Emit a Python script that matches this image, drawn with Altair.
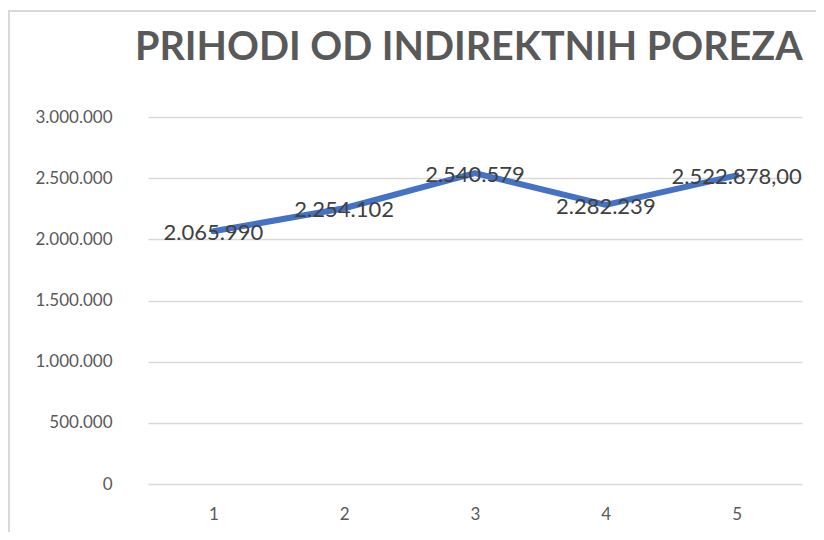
import altair as alt
import pandas as pd

categories = ["1", "2", "3", "4", "5"]
values = [2065990, 2254102, 2540579, 2282239, 2522878]
labels = ["2.065.990", "2.254.102", "2.540.579", "2.282.239", "2.522.878,00"]
title_text = "PRIHODI OD INDIREKTNIH POREZA"

df = pd.DataFrame({"cat": categories, "val": values, "lab": labels})

FONT = "Lato"
W, H = 654, 367
PL, PT, PR, PB = 140, 109, 14, 48

x = alt.X("cat:N", sort=categories, title=None,
          scale=alt.Scale(paddingInner=0, paddingOuter=0, align=0.5),
          axis=alt.Axis(labelAngle=0, ticks=False, domain=False, grid=False,
                        labelFont=FONT, labelFontSize=17, labelColor="#595959",
                        labelPadding=22))
y = alt.Y("val:Q", title=None,
          scale=alt.Scale(domain=[0, 3000000], nice=False),
          axis=alt.Axis(values=[0, 500000, 1000000, 1500000, 2000000, 2500000, 3000000],
                        labelExpr="replace(replace(format(datum.value, ','), ',', '.'), ',', '.')",
                        ticks=False, domain=False, grid=True, gridColor="#d9d9d9",
                        gridWidth=1.5, labelFont=FONT, labelFontSize=17,
                        labelColor="#595959", labelPadding=36))

base = alt.Chart(df)

line = base.mark_line(color="#4472C4", strokeWidth=6, strokeCap="round",
                      strokeJoin="round").encode(x=x, y=y)

text = base.mark_text(font=FONT, fontSize=22, color="#404040",
                      baseline="middle", align="center", dy=2).encode(
    x=alt.X("cat:N", sort=categories), y=alt.Y("val:Q"), text="lab:N")

one = pd.DataFrame({"t": [title_text]})

frame_top = alt.Chart(one).mark_rule(
    color="#d9d9d9", strokeWidth=2).encode(
    x=alt.value(-140), x2=alt.value(W + PR), y=alt.value(-106))
frame_left = alt.Chart(one).mark_rule(
    color="#d9d9d9", strokeWidth=2).encode(
    x=alt.value(-139), y=alt.value(-106), y2=alt.value(H + PB))

title = alt.Chart(one).mark_text(
    font=FONT, fontSize=39.5, fontWeight="bold", color="#595959",
    align="left", baseline="alphabetic").encode(
    x=alt.value(-13), y=alt.value(-57), text="t:N")

chart = alt.layer(frame_top, frame_left, line, text, title).properties(
    width=W, height=H,
    padding={"left": PL, "top": PT, "right": PR, "bottom": PB},
    autosize=alt.AutoSizeParams(type="none"),
    background="white",
).configure_view(strokeWidth=0, stroke="transparent")

chart.save("out.html", embed_options={"renderer": "svg", "actions": False})
